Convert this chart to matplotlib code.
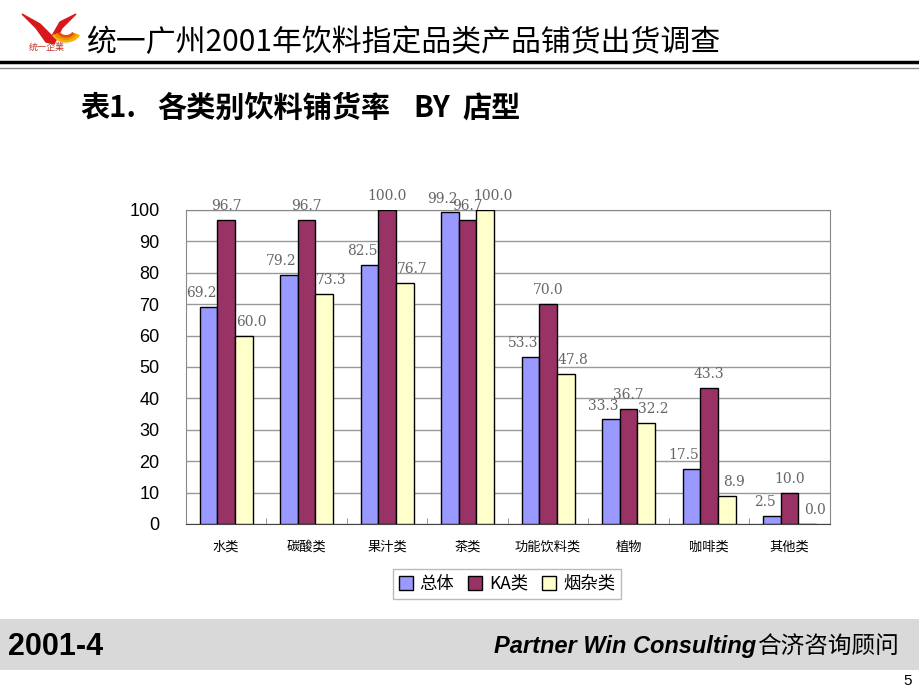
import numpy as np
import matplotlib.pyplot as plt
from matplotlib.patches import Rectangle, Polygon, Arc

plt.rcParams['font.family'] = ['Noto Sans CJK SC', 'DejaVu Sans']

categories = ['水类', '碳酸类', '果汁类', '茶类', '功能饮料类', '植物', '咖啡类', '其他类']
series_names = ['总体', 'KA类', '烟杂类']
total = [69.2, 79.2, 82.5, 99.2, 53.3, 33.3, 17.5, 2.5]
ka = [96.7, 96.7, 100.0, 96.7, 70.0, 36.7, 43.3, 10.0]
misc = [60.0, 73.3, 76.7, 100.0, 47.8, 32.2, 8.9, 0.0]
colors = ['#9999FF', '#993366', '#FFFFCC']
yticks = [0, 10, 20, 30, 40, 50, 60, 70, 80, 90, 100]

fig = plt.figure(figsize=(9.2, 6.9), dpi=100)
fig.patch.set_facecolor('white')

# ---- header ----
bg = fig.add_axes([0, 0, 1, 1], zorder=-5)
bg.set_xlim(0, 920)
bg.set_ylim(690, 0)
bg.axis('off')

# logo (rough)
bg.add_patch(Polygon([[22, 14], [40, 24], [52, 36], [60, 22], [76, 14], [62, 28], [54, 44], [46, 42], [36, 28]],
                     closed=True, color='#d7191c'))
for r, c in [(14, '#f5b400'), (11, '#f08c00'), (8, '#e65100')]:
    bg.add_patch(Arc((66, 30), r * 2, r * 1.6, theta1=20, theta2=160, color=c, lw=2))
bg.text(47, 47, '统一企業', fontsize=6.5, color='#c0392b', ha='center', va='center')

bg.text(86, 42, '统一广州2001年饮料指定品类产品铺货出货调查', fontsize=21.5, va='center', ha='left')
bg.plot([0, 920], [62, 62], color='black', lw=2.5)
bg.plot([0, 920], [68, 68], color='#888888', lw=1)

# subtitle, pieces placed like the slide
for xp, s in [(80, '表1.'), (157, '各类别饮料铺货率'), (413, 'BY'), (462, '店型')]:
    bg.text(xp, 108, s, fontsize=21, fontweight='bold', va='center', ha='left')

# ---- footer ----
bg.add_patch(Rectangle((0, 619), 920, 51, color='#d9d9d9', lw=0))
bg.text(8, 647, '2001-4', fontsize=22, fontweight='bold', va='center', ha='left',
        family=['Liberation Sans', 'DejaVu Sans'])
bg.text(756, 646, 'Partner Win Consulting', fontsize=17, fontweight='bold', style='italic',
        va='center', ha='right', family=['Liberation Sans', 'DejaVu Sans'])
bg.text(757, 646, '合济咨询顾问', fontsize=17, va='center', ha='left')
bg.text(912, 681, '5', fontsize=11, va='center', ha='right', family=['Liberation Sans', 'DejaVu Sans'])

# ---- chart ----
ax = fig.add_axes([0.202, 0.2406, 0.700, 0.4551])
x = np.arange(len(categories))
w = 0.22
offs = [-w, 0, w]
lab_dx = [-0.09, 0, 0.09]
for vals, c, o, dx, name in zip([total, ka, misc], colors, offs, lab_dx, series_names):
    ax.bar(x + o, vals, w, color=c, edgecolor='black', lw=1, label=name, zorder=3)
    for xi, v in zip(x, vals):
        ax.text(xi + o + dx, v + 2.2, f'{v:.1f}', ha='center', va='bottom', fontsize=10,
                color='#666666', family='DejaVu Serif')

ax.set_xlim(-0.5, len(categories) - 0.5)
ax.set_ylim(0, 100)
ax.set_yticks(yticks)
ax.yaxis.grid(True, color='#999999', lw=1, zorder=0)
ax.set_xticks(np.arange(len(categories) + 1) - 0.5, minor=True)
ax.set_xticks(x)
ax.set_xticklabels(categories, fontsize=9.5)
ax.tick_params(axis='x', which='major', length=0, pad=12)
ax.tick_params(axis='x', which='minor', length=4, color='#888888', direction='in')
ax.tick_params(axis='y', length=0, pad=19, labelsize=13)
for lbl in ax.get_yticklabels():
    lbl.set_family(['Liberation Sans', 'DejaVu Sans'])
for s in ax.spines.values():
    s.set_color('#888888')
ax.spines['bottom'].set_color('#444444')

leg = fig.legend(loc='center', bbox_to_anchor=(507 / 920, 1 - 584 / 690), ncol=3, fontsize=12.5,
                 frameon=True, fancybox=False, edgecolor='#aaaaaa', handlelength=0.8, handleheight=0.8,
                 handletextpad=0.4, columnspacing=0.8, borderpad=0.35)

fig.savefig('out.png', dpi=100)
